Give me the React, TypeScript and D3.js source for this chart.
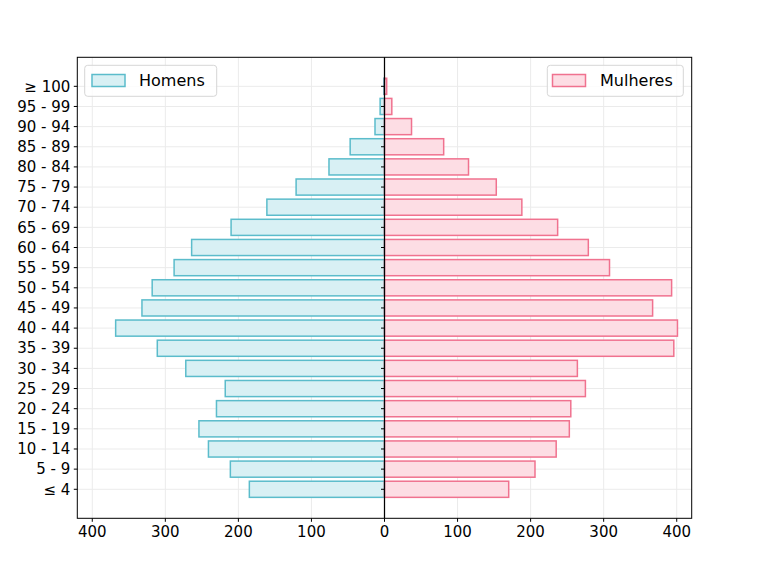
import React from "react";
import * as d3 from "d3";

const categories = ["≤ 4", "5 - 9", "10 - 14", "15 - 19", "20 - 24", "25 - 29", "30 - 34", "35 - 39", "40 - 44", "45 - 49", "50 - 54", "55 - 59", "60 - 64", "65 - 69", "70 - 74", "75 - 79", "80 - 84", "85 - 89", "90 - 94", "95 - 99", "≥ 100"];
const homens = [185, 211, 241, 254, 230, 218, 272, 311, 368, 332, 318, 288, 264, 210, 161, 121, 76, 47, 13, 6, 1];
const mulheres = [170, 206, 235, 253, 255, 275, 264, 396, 401, 367, 393, 308, 279, 237, 188, 153, 115, 81, 37, 10, 3];
const xTicks = [-400, -300, -200, -100, 0, 100, 200, 300, 400];

const W = 768, H = 576;
const L = 77.3, R = 691.7, T = 57.3, B = 518.3;
const FONT = "DejaVu Sans, sans-serif";
const cyanEdge = "#5bbccb";
const cyanFill = "#d8f0f4";
const pinkEdge = "#f0728f";
const pinkFill = "#fddde4";

export default function App() {
  const x = d3.scaleLinear().domain([-420.5, 420.5]).range([L, R]);
  const y = d3.scaleLinear().domain([-1.44, 21.44]).range([B, T]);
  const bh = y(0) - y(0.8);
  const x0 = x(0);
  return (
    <svg width={W} height={H} style={{ position: "absolute", left: 0, top: 0, background: "#fff" }} fontFamily={FONT}>
      <rect x={0} y={0} width={W} height={H} fill="#fff" />
      {/* grid */}
      {xTicks.map((t) => (
        <line key={"gx" + t} x1={x(t)} x2={x(t)} y1={T} y2={B} stroke="#ebebeb" strokeWidth={1} />
      ))}
      {categories.map((c, i) => (
        <line key={"gy" + i} x1={L} x2={R} y1={y(i)} y2={y(i)} stroke="#ebebeb" strokeWidth={1} />
      ))}
      {/* bars */}
      {homens.map((v, i) => (
        <rect key={"h" + i} x={x(-v)} y={y(i) - bh / 2} width={x0 - x(-v)} height={bh} fill={cyanFill} stroke={cyanEdge} strokeWidth={1.5} />
      ))}
      {mulheres.map((v, i) => (
        <rect key={"m" + i} x={x0} y={y(i) - bh / 2} width={x(v) - x0} height={bh} fill={pinkFill} stroke={pinkEdge} strokeWidth={1.5} />
      ))}
      {/* center line with ticks */}
      <line x1={x0} x2={x0} y1={T} y2={B} stroke="#000" strokeWidth={1.25} />
      {categories.map((c, i) => (
        <line key={"ct" + i} x1={x0 - 3.5} x2={x0} y1={y(i)} y2={y(i)} stroke="#000" strokeWidth={1} />
      ))}
      {/* frame */}
      <rect x={L} y={T} width={R - L} height={B - T} fill="none" stroke="#000" strokeWidth={1} />
      {/* y ticks & labels */}
      {categories.map((c, i) => (
        <g key={"yt" + i}>
          <line x1={L - 3.5} x2={L} y1={y(i)} y2={y(i)} stroke="#000" strokeWidth={1} />
          <text x={L - 7} y={y(i)} dy="0.35em" textAnchor="end" fontSize={15} fill="#000">{c}</text>
        </g>
      ))}
      {/* x ticks & labels */}
      {xTicks.map((t) => (
        <g key={"xt" + t}>
          <line x1={x(t)} x2={x(t)} y1={B} y2={B + 3.5} stroke="#000" strokeWidth={1} />
          <text x={x(t)} y={B + 7} dy="0.76em" textAnchor="middle" fontSize={15} fill="#000">{Math.abs(t)}</text>
        </g>
      ))}
      {/* legends */}
      <rect x={84.7} y={65.3} width={132} height={31} rx={3} fill="#fff" fillOpacity={0.8} stroke="#d6d6d6" strokeWidth={1} />
      <rect x={92} y={74.5} width={33} height={12} fill={cyanFill} stroke={cyanEdge} strokeWidth={1.5} />
      <text x={139} y={80.8} dy="0.35em" fontSize={16} fill="#000">Homens</text>
      <rect x={547.3} y={65.3} width={136} height={31} rx={3} fill="#fff" fillOpacity={0.8} stroke="#d6d6d6" strokeWidth={1} />
      <rect x={552.5} y={74.5} width={33} height={12} fill={pinkFill} stroke={pinkEdge} strokeWidth={1.5} />
      <text x={600} y={80.8} dy="0.35em" fontSize={16} fill="#000">Mulheres</text>
    </svg>
  );
}
